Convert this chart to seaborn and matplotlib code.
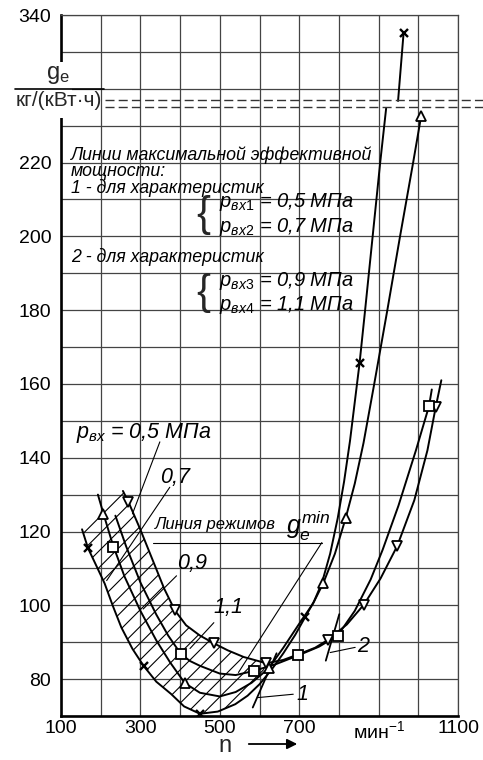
import numpy as np
import matplotlib
matplotlib.use("Agg")
import matplotlib.pyplot as plt
import seaborn as sns
from matplotlib.lines import Line2D
from matplotlib.patches import Rectangle

# ---- values: engine speed n (1/min) and g_e ----
# p_vx = 0.5 MPa (crosses), lower branch and the branch above the axis break
n_cross = [153, 168, 190, 210, 230, 252, 280, 308, 340, 377, 410, 450, 495, 539, 570, 600,
           630, 660, 690, 715, 737, 757, 778, 797, 813, 828, 852, 866, 885, 904, 919]
g_cross = [120.6, 115.5, 110.5, 105.9, 100.0, 94.0, 88.2, 83.6, 79.3, 76.0, 72.6, 70.6, 71.2, 73.2, 75.5, 78.6,
           82.5, 87.0, 92.0, 96.8, 101.0, 106.0, 114.0, 123.6, 133.5, 144.6, 165.6, 180.0, 200.0, 220.0, 234.7]
n_cross_top = [949, 963]
g_cross_top = [316.7, 335.2]

# triangles up
n_tri = [193, 207, 230, 260, 300, 340, 375, 412, 450, 500, 540, 580, 623, 660, 700, 735, 761, 790,
         817, 840, 862, 889, 922, 954, 987, 1007]
g_tri = [130.0, 124.8, 116.6, 107.8, 98.5, 90.5, 84.5, 78.9, 76.3, 75.3, 76.5, 79.0, 82.9, 88.5, 95.0, 100.5,
         106.1, 114.0, 123.6, 133.0, 144.0, 160.0, 180.0, 200.0, 220.0, 232.5]

# squares
n_sq = [237, 264, 300, 340, 370, 402, 425, 450, 500, 540, 585, 640, 697, 750, 797, 840, 880, 910,
        950, 994, 1027, 1034]
g_sq = [124.3, 116.0, 106.2, 97.5, 91.8, 86.8, 84.9, 83.6, 81.5, 81.1, 82.2, 84.0, 86.4, 88.8, 91.8, 98.5,
        107.0, 115.0, 127.0, 142.0, 154.0, 158.5]

# triangles down
n_dn = [256, 270, 300, 330, 360, 387, 415, 450, 485, 520, 560, 617, 660, 700, 740, 772, 820, 863,
        905, 947, 990, 1023, 1044, 1058]
g_dn = [131.0, 128.0, 120.5, 112.5, 104.5, 98.6, 94.6, 91.8, 89.7, 87.8, 86.0, 84.3, 85.2, 86.8, 88.5, 90.6,
        94.8, 100.2, 107.3, 116.1, 128.5, 142.0, 153.8, 161.0]

# measured points (markers)
mk_cross_n = [168, 308, 450, 715, 852, 963]
mk_cross_g = [115.5, 83.6, 70.6, 96.8, 165.6, 335.2]
mk_tri_n = [207, 412, 623, 761, 817, 1007]
mk_tri_g = [124.8, 78.9, 82.9, 106.1, 123.6, 232.5]
mk_sq_n = [231, 402, 585, 697, 797, 1027]
mk_sq_g = [115.9, 86.8, 82.2, 86.4, 91.8, 154.0]
mk_dn_n = [270, 387, 485, 617, 772, 863, 947, 1044]
mk_dn_g = [128.0, 98.6, 89.7, 84.3, 90.6, 100.2, 116.1, 153.8]

x_ticks = [100, 300, 500, 700, 900, 1100]
x_labels = ["100", "300", "500", "700", "мин$^{-1}$", "1100"]
y_ticks = [80, 100, 120, 140, 160, 180, 200, 220, 340]


# broken y axis: 236.7..316.7 is cut out
def fwd(y):
    y = np.asarray(y, dtype=float)
    return np.where(y <= 236.7, y, np.where(y >= 316.7, y - 80.0, 236.7))


def inv(u):
    u = np.asarray(u, dtype=float)
    return np.where(u <= 236.7, u, u + 80.0)


sns.set_theme(style="white")
plt.rcParams['font.family'] = ['Liberation Sans', 'DejaVu Sans']
plt.rcParams['mathtext.fontset'] = 'custom'
plt.rcParams['mathtext.rm'] = 'Liberation Sans'
plt.rcParams['mathtext.it'] = 'Liberation Sans:italic'
plt.rcParams['hatch.linewidth'] = 0.8

W, H = 483, 760
fig = plt.figure(figsize=(W / 100, H / 100), dpi=100)
ax = fig.add_axes([61 / W, 1 - 716 / H, (458 - 61) / W, (716 - 15) / H])
ax.set_yscale('function', functions=(fwd, inv))
ax.set_xlim(100, 1100)
ax.set_ylim(70, 340)

ax.set_xticks(x_ticks)
ax.set_xticklabels(x_labels)
ax.set_xticks(range(100, 1101, 100), minor=True)
ax.set_yticks(y_ticks)
ax.set_yticklabels([str(v) for v in y_ticks])
ax.set_yticks(list(range(70, 240, 10)) + [320, 330], minor=True)
ax.grid(which='both', color='#444444', lw=0.9)
ax.tick_params(which='both', length=0, labelsize=14, colors='black')
ax.tick_params(axis='y', pad=7)
ax.tick_params(axis='x', pad=3)
for side in ['left', 'bottom']:
    ax.spines[side].set_color('black')
    ax.spines[side].set_linewidth(1.9)
for side in ['top', 'right']:
    ax.spines[side].set_color('#444444')
    ax.spines[side].set_linewidth(0.9)

# hatched band between the 0.5 and 1.1 curves
poly_n = n_cross[:16] + n_dn[:12][::-1]
poly_g = g_cross[:16] + g_dn[:12][::-1]
ax.fill(poly_n, poly_g, facecolor='none', edgecolor='black', hatch='//', lw=0, zorder=2)

# curves
for nn, gg in [(n_cross, g_cross), (n_cross_top, g_cross_top), (n_tri, g_tri), (n_sq, g_sq), (n_dn, g_dn)]:
    sns.lineplot(x=nn, y=gg, ax=ax, color='black', lw=1.4, sort=False, estimator=None, zorder=3)

# markers
mk = dict(ls='none', mfc='white', mec='black', mew=1.3, zorder=5)
ax.plot(mk_tri_n, mk_tri_g, marker='^', ms=7.5, **mk)
ax.plot(mk_dn_n, mk_dn_g, marker='v', ms=7.5, **mk)
ax.plot(mk_sq_n, mk_sq_g, marker='s', ms=6.5, **mk)
ax.plot(mk_cross_n, mk_cross_g, ls='none', marker='x', ms=5.5, mew=1.7, color='black', zorder=5)

# lines of maximum power 1 and 2, leaders
thin = dict(color='black', lw=0.8, zorder=4)
ax.plot([583, 643], [72.3, 87.0], color='black', lw=1.3, zorder=4)
ax.plot([767, 801], [85.0, 97.6], color='black', lw=1.3, zorder=4)
ax.plot([597, 685], [75.0, 75.9], **thin)
ax.plot([778, 841], [87.2, 88.6], **thin)
ax.plot([332, 757], [117.0, 117.0], **thin)
ax.plot([757, 547], [117.0, 81.8], **thin)
ax.plot([349, 280], [144.3, 124.8], **thin)
ax.plot([374, 215], [132.0, 106.7], **thin)
ax.plot([391, 307], [108.0, 99.0], **thin)
ax.plot([485, 425], [95.3, 88.3], **thin)


def put(px, py, s, **kw):
    kw.setdefault('va', 'center')
    return fig.text(px / W, 1 - py / H, s, **kw)


it = dict(fontstyle='italic', color='black')
put(76, 433, r"$p_{вх}$ = 0,5 МПа", fontsize=15.5, **it)
put(160, 478, "0,7", fontsize=15.5, **it)
put(177, 563, "0,9", fontsize=15.5, **it)
put(213, 608, "1,1", fontsize=15.5, **it)
put(155, 525, "Линия режимов", fontsize=12, **it)
put(286, 526, r"$g_e^{min}$", fontsize=18, **it)
put(302, 695, "1", fontsize=15.5, ha='center', **it)
put(363, 647, "2", fontsize=15.5, ha='center', **it)

# text block
put(71, 155, "Линии максимальной эффективной", fontsize=12.8, **it)
put(71, 171.7, "мощности:", fontsize=12.8, **it)
put(71, 188.3, "1 - для характеристик", fontsize=12.8, **it)
put(203, 215, "{", fontsize=30, ha='center')
put(219, 202, r"$p_{вх1}$ = 0,5 МПа", fontsize=14.5, **it)
put(219, 227, r"$p_{вх2}$ = 0,7 МПа", fontsize=14.5, **it)
put(71, 256.7, "2 - для характеристик", fontsize=12.8, **it)
put(203, 293, "{", fontsize=30, ha='center')
put(219, 281, r"$p_{вх3}$ = 0,9 МПа", fontsize=14.5, **it)
put(219, 305, r"$p_{вх4}$ = 1,1 МПа", fontsize=14.5, **it)

# y label as a fraction over the axis break
fig.add_artist(Rectangle((48 / W, 1 - 118 / H), 24 / W, 56 / H, transform=fig.transFigure,
                         facecolor='white', edgecolor='none', zorder=10))
fig.add_artist(Line2D([15 / W, 104 / W], [1 - 89.3 / H] * 2, transform=fig.transFigure,
                      color='black', lw=1.2, zorder=11))
put(58, 75, r"$\mathregular{g_e}$", fontsize=17, ha='center', zorder=12)
put(59, 101, "кг/(кВт·ч)", fontsize=15, ha='center', zorder=12)
for py in [100, 107.3]:
    fig.add_artist(Line2D([105 / W, 483 / W], [1 - py / H] * 2, transform=fig.transFigure,
                          color='#333333', lw=1, dashes=(6.5, 3), zorder=11))

# x label with arrow
put(225, 746, "n", fontsize=17, ha='center')
fig.add_artist(matplotlib.patches.FancyArrowPatch((246 / W, 1 - 744 / H), (300 / W, 1 - 744 / H),
                                                  transform=fig.transFigure, arrowstyle='-|>',
                                                  mutation_scale=15, color='black', lw=1.3))

fig.savefig("out.png", dpi=100)
